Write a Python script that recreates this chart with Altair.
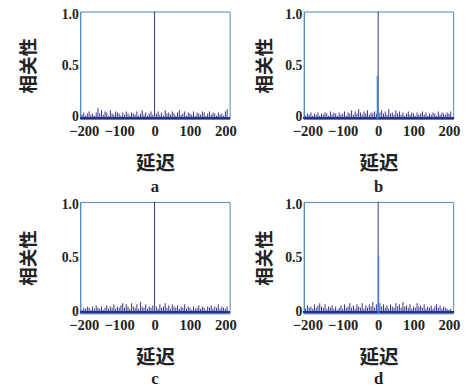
import altair as alt
import pandas as pd

# lags (noise stems), left and right of zero
lags_left = list(range(-205, 0, 5))   # 41 lags
lags_right = list(range(5, 210, 5))   # 41 lags

a_left = [0.04, 0.06, 0.03, 0.05, 0.07, 0.04, 0.05, 0.03, 0.06, 0.10,
          0.05, 0.08, 0.04, 0.07, 0.06, 0.03, 0.08, 0.05, 0.04, 0.07,
          0.06, 0.05, 0.03, 0.06, 0.04, 0.07, 0.05, 0.03, 0.06, 0.05,
          0.04, 0.07, 0.03, 0.05, 0.08, 0.04, 0.06, 0.03, 0.05, 0.07,
          0.04]
a_right = [0.05, 0.07, 0.04, 0.06, 0.03, 0.08, 0.05, 0.06, 0.04, 0.07,
           0.05, 0.03, 0.06, 0.08, 0.04, 0.05, 0.07, 0.03, 0.06, 0.05,
           0.04, 0.07, 0.03, 0.06, 0.05, 0.04, 0.07, 0.06, 0.03, 0.05,
           0.07, 0.04, 0.06, 0.05, 0.03, 0.06, 0.04, 0.05, 0.03, 0.07,
           0.09]
b_left = [0.03, 0.05, 0.04, 0.06, 0.03, 0.05, 0.04, 0.06, 0.03, 0.05,
          0.04, 0.06, 0.05, 0.03, 0.07, 0.04, 0.06, 0.05, 0.03, 0.06,
          0.04, 0.05, 0.07, 0.03, 0.06, 0.05, 0.08, 0.04, 0.07, 0.05,
          0.09, 0.06, 0.04, 0.07, 0.05, 0.08, 0.04, 0.06, 0.05, 0.07,
          0.05]
b_right = [0.06, 0.08, 0.05, 0.07, 0.04, 0.09, 0.05, 0.06, 0.04, 0.08,
           0.05, 0.07, 0.04, 0.06, 0.03, 0.05, 0.07, 0.04, 0.06, 0.05,
           0.03, 0.06, 0.04, 0.05, 0.07, 0.04, 0.06, 0.03, 0.05, 0.04,
           0.06, 0.05, 0.03, 0.07, 0.04, 0.06, 0.05, 0.04, 0.06, 0.05,
           0.07]
c_left = [0.03, 0.05, 0.04, 0.06, 0.05, 0.03, 0.06, 0.04, 0.07, 0.05,
          0.04, 0.06, 0.03, 0.05, 0.07, 0.04, 0.06, 0.05, 0.08, 0.04,
          0.06, 0.05, 0.07, 0.09, 0.05, 0.08, 0.06, 0.04, 0.09, 0.06,
          0.05, 0.08, 0.04, 0.10, 0.06, 0.05, 0.08, 0.04, 0.06, 0.05,
          0.07]
c_right = [0.06, 0.04, 0.08, 0.05, 0.06, 0.09, 0.05, 0.07, 0.04, 0.08,
           0.06, 0.05, 0.07, 0.04, 0.06, 0.05, 0.08, 0.04, 0.06, 0.05,
           0.03, 0.06, 0.04, 0.05, 0.07, 0.04, 0.06, 0.05, 0.03, 0.06,
           0.05, 0.07, 0.04, 0.06, 0.05, 0.08, 0.04, 0.06, 0.05, 0.04,
           0.06]
d_left = [0.04, 0.07, 0.05, 0.06, 0.04, 0.08, 0.05, 0.07, 0.09, 0.06,
          0.05, 0.08, 0.04, 0.06, 0.05, 0.07, 0.04, 0.06, 0.03, 0.05,
          0.07, 0.04, 0.08, 0.05, 0.06, 0.09, 0.05, 0.07, 0.04, 0.08,
          0.06, 0.05, 0.09, 0.04, 0.07, 0.05, 0.08, 0.06, 0.10, 0.05,
          0.08]
d_right = [0.09, 0.06, 0.08, 0.05, 0.07, 0.04, 0.08, 0.06, 0.05, 0.09,
           0.06, 0.08, 0.05, 0.10, 0.06, 0.07, 0.05, 0.08, 0.04, 0.06,
           0.05, 0.09, 0.06, 0.07, 0.05, 0.08, 0.04, 0.06, 0.05, 0.07,
           0.04, 0.06, 0.08, 0.05, 0.07, 0.04, 0.06, 0.05, 0.04, 0.03,
           0.04]

peak_lag = [0]
peak_val = [1.0]

# secondary spike near zero (panels b and d)
second = {"a": None, "b": (-2, 0.40), "c": None, "d": (1, 0.52)}

panels = {
    "a": (a_left, a_right),
    "b": (b_left, b_right),
    "c": (c_left, c_right),
    "d": (d_left, d_right),
}

x_ticks = [-200, -100, 0, 100, 200]
y_ticks = [0, 0.5, 1.0]

FRAME = "#4f86b4"
LINE = "#2e2f86"
SERIF = "Liberation Serif"
CJK = "Noto Sans CJK SC"

y_label_offset = {
    "condition": [
        {"test": "datum.value == 1", "value": 3},
        {"test": "datum.value == 0", "value": -2},
    ],
    "value": 0,
}


def panel(key, title_pad, h, letter_offset):
    left, right = panels[key]
    df = pd.DataFrame({
        "lag": lags_left + peak_lag + lags_right,
        "val": left + peak_val + right,
    })
    x = alt.X("lag:Q", scale=alt.Scale(domain=[-210, 212], nice=False),
              axis=alt.Axis(values=x_ticks, title="延迟", ticks=False,
                            grid=False, labelPadding=5, titlePadding=16,
                            domainColor=FRAME, labelFont=SERIF,
                            labelFontWeight="bold", labelFontSize=15,
                            labelColor="#222", titleFont=CJK,
                            titleFontSize=20, titleFontWeight="bold",
                            titleColor="#222", labelOverlap=False))
    y = alt.Y("val:Q", scale=alt.Scale(domain=[0, 1], nice=False),
              axis=alt.Axis(values=y_ticks, title="相关性", ticks=False,
                            grid=False, labelPadding=2, titlePadding=title_pad,
                            domainColor=FRAME, labelFont=SERIF,
                            labelFontWeight="bold", labelFontSize=14,
                            labelColor="#222", labelOffset=y_label_offset,
                            labelExpr="datum.value == 0 ? '0' : format(datum.value, '.1f')",
                            titleFont=CJK, titleFontSize=19,
                            titleFontWeight="bold", titleColor="#222"))
    stems = alt.Chart(df).mark_rule(color=LINE, strokeWidth=1).encode(
        x=x, y=y, y2=alt.datum(0))
    base = alt.Chart(df).mark_rule(color=LINE, strokeWidth=1.2, opacity=0.7).encode(
        x=alt.value(0), x2=alt.value(153), y=alt.value(h - 1))
    layers = [base, stems]
    if second[key] is not None:
        sdf = pd.DataFrame({"lag": [second[key][0]], "val": [second[key][1]]})
        layers.append(alt.Chart(sdf).mark_rule(color="#3f86d6", strokeWidth=1.5).encode(
            x=x, y=y, y2=alt.datum(0)))
    return alt.layer(*layers).properties(
        width=153, height=h,
        title=alt.TitleParams(key, orient="bottom", font=SERIF, fontSize=17,
                              fontWeight="bold", color="#222",
                              offset=letter_offset))


top = alt.hconcat(panel("a", 23, 110, 6), panel("b", 11, 110, 6), spacing=18)
bottom = alt.hconcat(panel("c", 23, 114, 4), panel("d", 11, 114, 4), spacing=18)
chart = alt.vconcat(top, bottom, spacing=1).properties(
    padding={"left": 12, "top": -6, "right": 0, "bottom": -3},
    background="white",
).configure_view(stroke=FRAME, strokeWidth=1)

chart.save("out.html", embed_options={"renderer": "svg", "actions": False})
